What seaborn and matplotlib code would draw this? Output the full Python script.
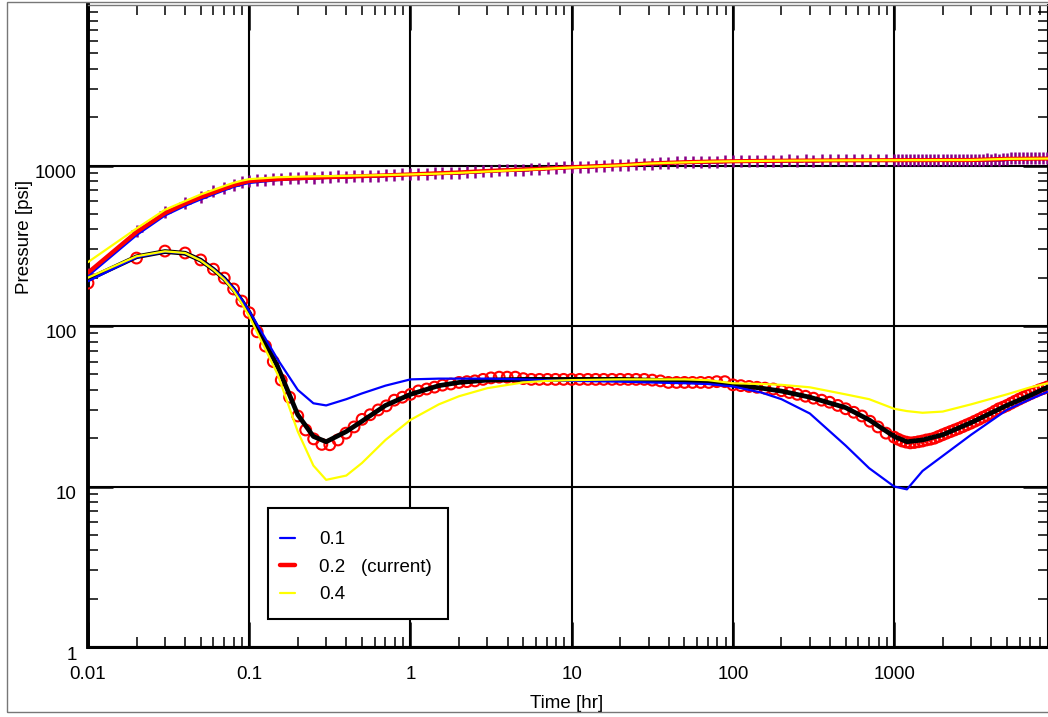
import numpy as np
import pandas as pd
import matplotlib
matplotlib.use("Agg")
import matplotlib.pyplot as plt
import matplotlib.ticker as mticker
import matplotlib.transforms as mtransforms
from matplotlib.lines import Line2D
from matplotlib.patches import Rectangle
import seaborn as sns

# ------------------------------------------
# model curves (time grid shared by all three runs)
# ------------------------------------------
t_model = [0.01, 0.02, 0.03, 0.04, 0.05, 0.06, 0.07, 0.08, 0.09, 0.1,
           0.15, 0.2, 0.25, 0.3, 0.4, 0.5, 0.7, 1, 1.5, 2,
           3, 5, 7, 10, 20, 30, 50, 70, 100, 150,
           200, 300, 500, 700, 1000, 1200, 1500, 2000, 3000, 5000,
           7000, 9000]

# pressure
p_01 = [205, 368, 488, 560, 615, 660, 700, 735, 760, 778,
        810, 822, 830, 836, 845, 852, 864, 878, 895, 908,
        930, 955, 968, 982, 1010, 1032, 1048, 1057, 1063, 1068,
        1071, 1074, 1077, 1078, 1079, 1080, 1081, 1082, 1084, 1110,
        1112, 1114]
p_02 = [215, 385, 505, 580, 635, 680, 720, 755, 780, 800,
        822, 832, 840, 845, 852, 858, 868, 880, 895, 905,
        925, 945, 958, 975, 1005, 1030, 1048, 1057, 1063, 1068,
        1071, 1074, 1077, 1078, 1079, 1080, 1080, 1081, 1082, 1100,
        1102, 1104]
p_04 = [250, 405, 530, 600, 660, 705, 745, 780, 805, 822,
        845, 852, 856, 858, 862, 866, 872, 880, 890, 900,
        918, 940, 955, 972, 1002, 1028, 1046, 1056, 1063, 1068,
        1071, 1074, 1077, 1078, 1079, 1080, 1080, 1081, 1082, 1100,
        1102, 1104]

# derivative
dp_01 = [190, 268, 290, 284, 257, 226, 198, 172, 146, 124,
         62, 40, 33, 32, 35, 38, 42.5, 46.5, 47, 47,
         47, 46.5, 46, 45.5, 45, 44.5, 44, 43.5, 42, 38.5,
         35, 28.5, 18, 13, 10, 9.6, 12.5, 15.5, 21, 30,
         35, 39]
dp_02 = [195, 270, 291, 284, 257, 225, 197, 169, 143, 121,
         56, 28, 20.5, 19, 22, 25.5, 32, 37.5, 42.5, 44.5,
         46, 46.5, 46.5, 46.5, 46.5, 46, 45.5, 44.5, 43, 41,
         39.3, 36, 31, 26, 20.5, 19, 19.5, 21, 25, 32,
         37, 41.7]
dp_04 = [200, 272, 292, 285, 256, 224, 195, 166, 138, 115,
         50, 22, 13.5, 11, 11.7, 14, 19.5, 26, 32.5, 36.5,
         41, 44.5, 45.5, 46, 46.5, 46.5, 46.5, 46, 44, 43.5,
         43, 41.5, 37.5, 35, 30.5, 29.5, 28.8, 29.3, 32.5, 37.5,
         41.5, 44]

# ------------------------------------------
# measured data (pressure "+" and derivative "o")
# ------------------------------------------
t_data = [0.01, 0.02, 0.03, 0.04, 0.05, 0.06, 0.07, 0.08, 0.09,
          0.1, 0.112, 0.126, 0.141, 0.158, 0.178, 0.2, 0.224, 0.251, 0.282,
          0.316, 0.355, 0.398, 0.447, 0.501, 0.562, 0.631, 0.708, 0.794, 0.891,
          1, 1.12, 1.26, 1.41, 1.58, 1.78, 2, 2.24, 2.51, 2.82,
          3.16, 3.55, 3.98, 4.47, 5.01, 5.62, 6.31, 7.08, 7.94, 8.91,
          10, 11.2, 12.6, 14.1, 15.8, 17.8, 20, 22.4, 25.1, 28.2,
          31.6, 35.5, 39.8, 44.7, 50.1, 56.2, 63.1, 70.8, 79.4, 89.1,
          100, 112, 126, 141, 158, 178, 200, 224, 251, 282,
          316, 355, 398, 447, 501, 562, 631, 708, 794, 891,
          1000, 1059, 1122, 1189, 1259, 1334, 1413, 1496, 1585, 1679,
          1778, 1884, 1995, 2113, 2239, 2371, 2512, 2661, 2818, 2985,
          3162, 3350, 3548, 3758, 3981, 4217, 4467, 4732, 5012, 5309,
          5623, 5957, 6310, 6683, 7079, 7499, 7943, 8414, 8913]

p_data = [212, 390, 510, 585, 640, 690, 728, 760, 785,
          800, 812, 818, 826, 826, 834, 832, 842, 838, 848,
          845, 856, 850, 860, 856, 866, 862, 872, 870, 880,
          880, 888, 886, 895, 894, 903, 902, 912, 912, 922,
          922, 932, 932, 942, 942, 952, 952, 962, 962, 972,
          975, 982, 984, 992, 994, 1002, 1004, 1012, 1016, 1026,
          1028, 1038, 1038, 1047, 1046, 1054, 1053, 1059, 1058, 1063,
          1063, 1068, 1066, 1071, 1068, 1074, 1070, 1076, 1072, 1078,
          1074, 1080, 1075, 1081, 1076, 1082, 1077, 1083, 1078, 1083,
          1078, 1084, 1079, 1085, 1079, 1085, 1080, 1086, 1080, 1086,
          1081, 1087, 1081, 1087, 1082, 1088, 1082, 1088, 1083, 1089,
          1083, 1089, 1084, 1090, 1084, 1090, 1085, 1091, 1105, 1112,
          1106, 1112, 1106, 1113, 1107, 1113, 1107, 1114, 1108]

dp_data = [185, 265, 293, 285, 258, 226, 199, 170, 143,
           121, 92, 75, 60, 46, 36, 27.5, 22.5, 19.8, 18.3,
           18.2, 19.5, 21.5, 23.5, 26.2, 28, 30, 31.8, 34.5, 36,
           37.5, 39.4, 40.5, 41.6, 42.8, 43.5, 44.5, 45, 45.5, 46.5,
           47.5, 48, 48, 48, 47, 46.5, 46.5, 46.5, 46.5, 46.5,
           46.5, 46.5, 46.5, 46.5, 46.5, 46.5, 46.5, 46.5, 46.5, 46.5,
           46, 45.5, 44.5, 44.5, 44.5, 44.5, 44.5, 44.5, 45, 45,
           43, 42.5, 42, 41.5, 41, 40.5, 39.5, 38.5, 37.5, 36.5,
           35.5, 34.5, 33.5, 32, 30.5, 29, 27.5, 25.5, 23.5, 21.5,
           20.3, 19.7, 19.2, 18.9, 18.7, 18.8, 19, 19.2, 19.5, 19.7,
           20, 20.5, 21, 21.5, 22, 22.5, 23, 23.6, 24.2, 24.8,
           25.5, 26.2, 27, 27.7, 28.5, 29.5, 30.5, 31.2, 32, 33,
           34, 35, 36, 37, 38, 39, 40, 40.8, 41.7]

x_ticks = [0.01, 0.1, 1, 10, 100, 1000]
x_labels = ["0.01", "0.1", "1", "10", "100", "1000"]
y_ticks = [1, 10, 100, 1000]
y_labels = ["1", "10", "100", "1000"]
legend_labels = ["0.1", "0.2   (current)", "0.4"]

# ------------------------------------------
# FIGURE
# ------------------------------------------
sns.set_style("white")
plt.rcParams["font.family"] = ["Liberation Sans", "DejaVu Sans"]
plt.rcParams["text.color"] = "black"
plt.rcParams["axes.labelcolor"] = "black"
FS = 13.5

fig = plt.figure(figsize=(10.48, 7.17), dpi=100)
ax = fig.add_axes([88 / 1048, 70 / 717, 960 / 1048, 642 / 717])

# data markers
sns.scatterplot(x=t_data, y=p_data, ax=ax, marker="+", color="#880088",
                s=65, linewidth=1.8, zorder=3)
sns.scatterplot(x=t_data, y=dp_data, ax=ax, marker="o", facecolors="none",
                edgecolor="red", s=60, linewidth=1.5, zorder=3)

# pressure models
sns.lineplot(x=t_model, y=p_01, ax=ax, color="blue", lw=1.6, zorder=4,
             estimator=None, sort=False)
sns.lineplot(x=t_model, y=p_02, ax=ax, color="red", lw=3.0, zorder=5,
             estimator=None, sort=False)
sns.lineplot(x=t_model, y=p_04, ax=ax, color="yellow", lw=1.6, zorder=6,
             estimator=None, sort=False)

# derivative models
sns.lineplot(x=t_model, y=dp_02, ax=ax, color="black", lw=3.4, zorder=4,
             estimator=None, sort=False)
sns.lineplot(x=t_model, y=dp_01, ax=ax, color="blue", lw=1.6, zorder=5,
             estimator=None, sort=False)
sns.lineplot(x=t_model, y=dp_04, ax=ax, color="yellow", lw=1.6, zorder=6,
             estimator=None, sort=False)

ax.set_xscale("log")
ax.set_yscale("log")
ax.set_xlim(0.01, 9000)
ax.set_ylim(1, 10000)

ax.xaxis.set_major_locator(mticker.FixedLocator(x_ticks))
ax.xaxis.set_major_formatter(mticker.FixedFormatter(x_labels))
ax.yaxis.set_major_locator(mticker.FixedLocator(y_ticks))
ax.yaxis.set_major_formatter(mticker.FixedFormatter(y_labels))
ax.xaxis.set_minor_locator(mticker.LogLocator(base=10, subs=np.arange(2, 10), numticks=20))
ax.yaxis.set_minor_locator(mticker.LogLocator(base=10, subs=np.arange(2, 10), numticks=20))
ax.xaxis.set_minor_formatter(mticker.NullFormatter())
ax.yaxis.set_minor_formatter(mticker.NullFormatter())

ax.grid(True, which="major", color="black", lw=1.5)
ax.tick_params(which="both", direction="in", left=True, bottom=True,
               top=True, right=True, colors="black", labelsize=FS)
ax.tick_params(which="major", length=18, width=1.8)
ax.tick_params(which="minor", length=7, width=1.1)
ax.tick_params(axis="y", which="major", pad=8)
ax.tick_params(axis="x", which="major", pad=14)

for side in ["left", "bottom", "right"]:
    ax.spines[side].set_color("black")
ax.spines["left"].set_linewidth(2.8)
ax.spines["bottom"].set_linewidth(2.2)
ax.spines["right"].set_linewidth(1.5)
ax.spines["top"].set_color("#777777")
ax.spines["top"].set_linewidth(1.0)

# y tick labels sit a little below their grid lines
shift = mtransforms.ScaledTranslation(0, -0.06, fig.dpi_scale_trans)
for lab in ax.get_yticklabels():
    lab.set_transform(lab.get_transform() + shift)

ax.set_xlabel("Time [hr]", fontsize=FS, color="black")
ax.set_ylabel("Pressure [psi]", fontsize=FS, color="black")
ax.xaxis.set_label_coords(0.499, -0.074)
ax.yaxis.set_label_coords(-0.057, 0.639)

# legend: box drawn separately, entries placed inside it
ax.add_patch(Rectangle((0.1875, 0.0436), 0.1875, 0.1729,
                       transform=ax.transAxes, facecolor="white",
                       edgecolor="black", lw=1.5, zorder=9))
handles = [Line2D([], [], color="blue", lw=1.6),
           Line2D([], [], color="red", lw=3.2),
           Line2D([], [], color="yellow", lw=1.6)]
leg = ax.legend(handles, legend_labels, loc="center left",
                bbox_to_anchor=((280 - 9.4 - 88) / 960, 0.1245),
                fontsize=FS, frameon=False, handlelength=0.8,
                handletextpad=1.3, labelspacing=0.55, borderpad=0.5,
                borderaxespad=0)
for txt in leg.get_texts():
    txt.set_color("black")
leg.set_zorder(10)

# outer frame
fig.patches.append(Rectangle((7 / 1048, 5 / 717), 1.0, 710 / 717,
                             transform=fig.transFigure, fill=False,
                             edgecolor="#777777", lw=1.0))

fig.savefig("out.png", dpi=100)
